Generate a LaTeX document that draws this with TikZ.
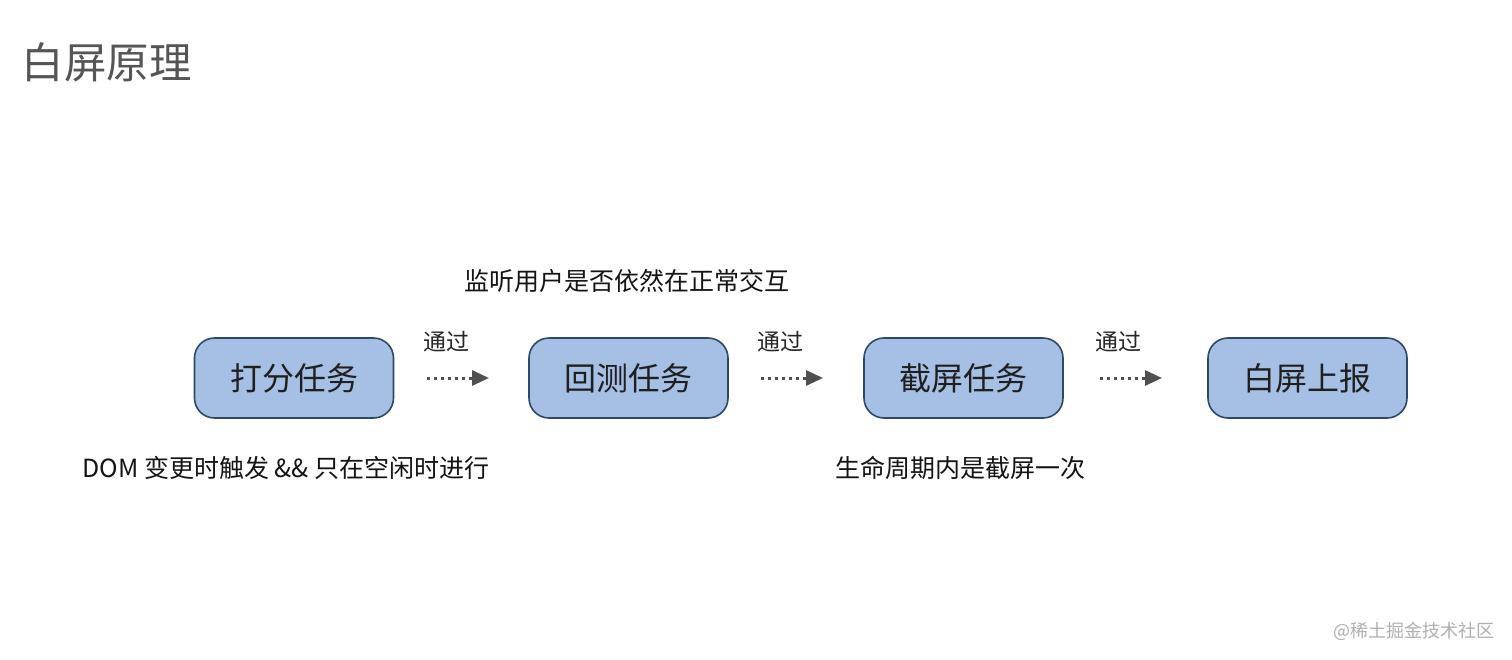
\documentclass[tikz,border=0pt]{standalone}
\usepackage{fontspec}
\setmainfont{Noto Sans CJK SC}
\usetikzlibrary{arrows.meta}
\definecolor{boxfill}{HTML}{A6BFE4}
\definecolor{boxdraw}{HTML}{2E4866}
\definecolor{titlegray}{HTML}{555555}
\definecolor{arrgray}{HTML}{505050}
\definecolor{wmgray}{HTML}{B0B0B0}
\tikzset{
  taskbox/.style={draw=boxdraw, line width=1.6pt, fill=boxfill, rounded corners=20pt,
    minimum width=199pt, minimum height=80pt, font=\fontsize{32}{36}\selectfont, text=black!88},
  flow/.style={arrgray, line width=3pt, dash pattern=on 3pt off 4pt,
    -{Triangle[length=17pt,width=15pt]}},
  passlabel/.style={font=\fontsize{23}{26}\selectfont, text=black!85},
  note/.style={font=\fontsize{25}{28}\selectfont, text=black!92, anchor=west},
}
\begin{document}
\begin{tikzpicture}[x=1pt,y=-1pt]
\useasboundingbox[fill=white] (0,0) rectangle (1512,659);
\node[anchor=west, font=\fontsize{42.5}{46}\selectfont, text=titlegray] (title) at (18,62) {白屏原理};
\node[taskbox] (t1) at (294,378) {打分任务};
\node[taskbox] (t2) at (628.5,378) {回测任务};
\node[taskbox] (t3) at (963.5,378) {截屏任务};
\node[taskbox] (t4) at (1307.5,378) {白屏上报};
\coordinate (a1s) at (427,378); \coordinate (a1e) at (489,378);
\coordinate (a2s) at (761,378); \coordinate (a2e) at (823,378);
\coordinate (a3s) at (1100,378); \coordinate (a3e) at (1162,378);
\draw[flow] (a1s) -- (a1e);
\draw[flow] (a2s) -- (a2e);
\draw[flow] (a3s) -- (a3e);
\node[passlabel] (p1) at (446,342) {通过};
\node[passlabel] (p2) at (780,342) {通过};
\node[passlabel] (p3) at (1118,342) {通过};
\node[note] (n1) at (461,281) {监听用户是否依然在正常交互};
\node[note] (n2) at (79,468) {DOM 变更时触发 \&\& 只在空闲时进行};
\node[note] (n3) at (832,468) {生命周期内是截屏一次};
\node[anchor=west, font=\fontsize{18}{20}\selectfont, text=wmgray] (wm) at (1330,631) {@稀土掘金技术社区};
\end{tikzpicture}
\end{document}
